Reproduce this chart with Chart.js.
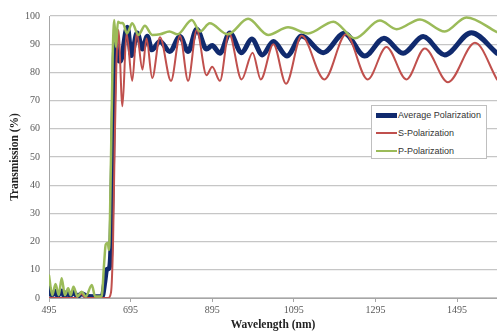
<!DOCTYPE html>
<html>
<head>
<meta charset="utf-8">
<script src="https://cdn.jsdelivr.net/npm/chart.js@4/dist/chart.umd.min.js"></script>
<style>
  html, body { margin: 0; padding: 0; background: #fff; }
  #wrap { position: relative; width: 497px; height: 335px; }
  #legend {
    position: absolute; left: 371px; top: 105px; width: 114px; height: 52px;
    border: 1px solid #bfbfbf; background: #fff;
    font-family: "Liberation Sans", Arial, sans-serif; font-size: 9px; color: #333;
  }
  .item { position: absolute; left: 4px; height: 12px; display: flex; align-items: center; }
  .swatch { width: 21px; margin-right: 1px; }
</style>
</head>
<body>
<div id="wrap">
  <canvas id="chart" width="497" height="335"></canvas>
  <div id="legend"></div>
</div>
<script>
// ===============================
// DATA
// ===============================
const xTicks = [495, 695, 895, 1095, 1295, 1495];
const yTicks = [0, 10, 20, 30, 40, 50, 60, 70, 80, 90, 100];

const avgWavelength = [495, 500, 505, 511, 516, 526, 532, 540, 546, 555, 565, 575, 590, 625, 632, 636, 642, 646, 651, 655, 658, 662, 670, 687, 697, 711, 724, 736, 747, 767, 791, 816, 836, 857, 881, 895, 914, 938, 967, 992, 1018, 1045, 1078, 1114, 1167, 1219, 1269, 1316, 1363, 1412, 1465, 1530, 1593];
const avgValues     = [3.5, 1.2, 1.2, 2.4, 0.8, 2.5, 0.8, 2, 0.8, 2, 0.6, 1.5, 0.5, 0.4, 6, 10, 10.5, 15, 50, 85, 92, 85, 84, 96, 86, 94, 88.3, 92.8, 88, 91, 87.4, 92.7, 87.4, 95.3, 88.3, 89.5, 86.8, 94, 87, 91.8, 86.2, 91, 85.8, 92.9, 87, 93.9, 85.8, 92.1, 86.8, 92.7, 86.2, 94.1, 86.8];

const sWavelength = [495, 560, 570, 575, 582, 590, 640, 647, 652, 656, 660, 665, 675, 685, 699, 710, 724, 734, 748, 767, 794, 816, 836, 857, 881, 895, 914, 936, 967, 994, 1014, 1045, 1076, 1114, 1170, 1223, 1276, 1322, 1371, 1416, 1473, 1539, 1593];
const sValues     = [0, 0, 1.2, 1.5, 0.3, 0, 0, 2, 20, 55, 82, 95, 68, 94, 77, 94, 81, 92, 78, 92.5, 77, 93, 77, 95, 79, 82, 77, 94, 77.5, 87, 77.5, 90, 76, 93, 77.5, 93.5, 77.5, 89, 77.5, 88.5, 76.5, 90.5, 77.5];

const pWavelength = [495, 503, 511, 519, 526, 534, 542, 548, 555, 565, 575, 585, 600, 608, 624, 630, 634, 639, 642, 647, 651, 655, 659, 664, 670, 676, 686, 699, 714, 730, 748, 767, 790, 810, 845, 865, 889, 933, 983, 1032, 1081, 1130, 1192, 1245, 1306, 1347, 1404, 1465, 1518, 1593];
const pValues     = [8, 1, 5, 1, 7, 1, 3.5, 1, 4, 0.5, 2.2, 0.5, 4.6, 0.5, 0.5, 12, 19, 19.5, 17, 50, 85, 98.6, 89, 98, 97.5, 97.5, 93.8, 97.4, 93.3, 96.5, 93.3, 93.5, 94.5, 93.5, 98.6, 94.5, 97.4, 93.5, 99, 93.3, 96, 93.8, 98, 92.1, 98.4, 95.3, 98.8, 94.5, 99.5, 94.3];

const seriesNames = ['Average Polarization', 'S-Polarization', 'P-Polarization'];
const seriesColors = ['#102a6e', '#c0504d', '#9bbb59'];
const seriesWidths = [5, 2, 2.5];

function toPoints(xs, ys) {
    return xs.map((x, i) => ({ x: x, y: ys[i] }));
}

const serif = '"Liberation Serif", "Times New Roman", serif';

const ctx = document.getElementById('chart').getContext('2d');
const chart = new Chart(ctx, {
    type: 'line',
    data: {
        datasets: [
            { label: seriesNames[0], data: toPoints(avgWavelength, avgValues), order: 3 },
            { label: seriesNames[1], data: toPoints(sWavelength, sValues), order: 2 },
            { label: seriesNames[2], data: toPoints(pWavelength, pValues), order: 1 }
        ].map((d, i) => Object.assign(d, {
            borderColor: seriesColors[i],
            borderWidth: seriesWidths[i],
            pointRadius: 0,
            fill: false,
            cubicInterpolationMode: 'monotone',
            borderJoinStyle: 'round',
            borderCapStyle: 'round'
        }))
    },
    options: {
        responsive: false,
        animation: false,
        layout: { padding: { top: 16, right: 0, left: 0, bottom: 0 } },
        plugins: { legend: { display: false }, tooltip: { enabled: false } },
        scales: {
            x: {
                type: 'linear',
                min: 495,
                max: 1593,
                afterBuildTicks: s => { s.ticks = xTicks.map(v => ({ value: v })); },
                afterFit: s => { s.height = 37; },
                grid: { drawOnChartArea: false, drawTicks: true, tickLength: 4, color: '#a6a6a6' },
                border: { display: true, color: '#a6a6a6', width: 1 },
                ticks: {
                    color: '#595959', font: { family: serif, size: 10 }, padding: 2, maxRotation: 0,
                    callback: v => String(v)
                },
                title: {
                    display: true, text: 'Wavelength (nm)', color: '#222',
                    font: { family: serif, size: 11.5, weight: 'bold' }, padding: { top: 0, bottom: 3 }
                }
            },
            y: {
                min: 0,
                max: 100,
                afterBuildTicks: s => { s.ticks = yTicks.map(v => ({ value: v })); },
                afterFit: s => { s.width = 49; },
                grid: { drawTicks: false, color: '#c6c6c6', lineWidth: 1.3 },
                border: { display: true, color: '#a6a6a6', width: 1 },
                ticks: {
                    color: '#595959', font: { family: serif, size: 10 }, padding: 9,
                    callback: v => String(v)
                },
                title: {
                    display: true, text: 'Transmission (%)', color: '#222',
                    font: { family: serif, size: 11.5, weight: 'bold' }, padding: { top: 8, bottom: 0 }
                }
            }
        }
    }
});

// HTML legend inside the plot
const legend = document.getElementById('legend');
seriesNames.forEach((name, i) => {
    const item = document.createElement('div');
    item.className = 'item';
    item.style.top = (3 + i * 18) + 'px';
    item.innerHTML = `<span class="swatch" style="height:${seriesWidths[i]}px;background:${seriesColors[i]}"></span><span>${name}</span>`;
    legend.appendChild(item);
});
</script>
</body>
</html>
